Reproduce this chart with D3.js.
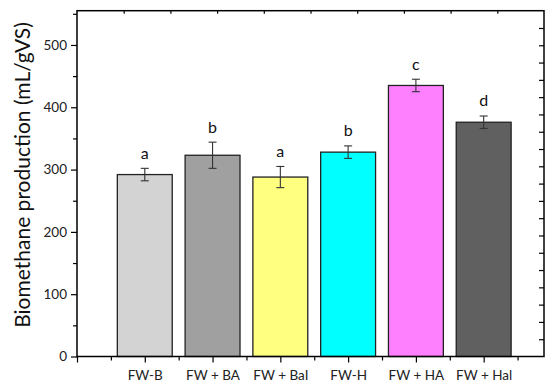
<!DOCTYPE html>
<html><head><meta charset="utf-8">
<script src="https://cdn.jsdelivr.net/npm/d3@7"></script>
<style>body{margin:0;background:#fff}svg{display:block}text{font-family:Lato,"Open Sans",sans-serif}</style>
</head><body><svg id="c" width="550" height="384"></svg>
<script>
const categories = ["FW-B","FW + BA","FW + BaI","FW-H","FW + HA","FW + Hal"];
const values = [292, 323, 288, 328, 435, 376];
const errors = [10, 21, 17, 10, 10, 10];
const letters = ["a","b","a","b","c","d"];
const colors = ["#d3d3d3","#a0a0a0","#ffff80","#00ffff","#ff80ff","#606060"];
const yTicks = [0,100,200,300,400,500];

const svg = d3.select("#c");
const L = 77, R = 544, T = 10.7, B = 356.5;
const x = d3.scaleLinear().domain([0, 6.89]).range([L, R]);
const y = d3.scaleLinear().domain([0, 555]).range([B, T]);
const bw = 0.81;

// bars
const g = svg.append("g");
g.selectAll("rect").data(values).join("rect")
  .attr("x", (d,i)=>x(i+1-bw/2)).attr("width", x(bw)-x(0))
  .attr("y", d=>y(d)).attr("height", d=>y(0)-y(d))
  .attr("fill", (d,i)=>colors[i]).attr("stroke","#222").attr("stroke-width",1.3);

// error bars
const eb = svg.append("g").attr("stroke","#333").attr("stroke-width",1.1);
values.forEach((v,i)=>{
  const cx = x(i+1);
  eb.append("line").attr("x1",cx).attr("x2",cx).attr("y1",y(v-errors[i])).attr("y2",y(v+errors[i]));
  [v-errors[i], v+errors[i]].forEach(e=>eb.append("line").attr("x1",cx-4).attr("x2",cx+4).attr("y1",y(e)).attr("y2",y(e)));
});

// letters
svg.append("g").selectAll("text").data(letters).join("text")
  .attr("x",(d,i)=>x(i+1)).attr("y",(d,i)=>y(values[i]+errors[i])-9.5)
  .attr("text-anchor","middle").attr("font-size",16).attr("fill","#111").text(d=>d);

// axes
const yAxis = d3.axisLeft(y).tickValues(yTicks).tickSize(6).tickPadding(4).tickFormat(d3.format("d"));
const ya = svg.append("g").attr("transform",`translate(${L},0)`).call(yAxis);
ya.selectAll(".tick text").attr("font-size",13.5).attr("fill","#222");
const yMinor = d3.axisLeft(y).tickValues([50,150,250,350,450,550]).tickSize(4).tickFormat("");
svg.append("g").attr("transform",`translate(${L},0)`).call(yMinor);

const xAxis = d3.axisBottom(x).tickValues([0,1,2,3,4,5,6]).tickSize(6).tickPadding(8)
  .tickFormat(d=> d===0 ? "" : categories[d-1]);
const xa = svg.append("g").attr("transform",`translate(0,${B})`).call(xAxis);
xa.selectAll(".tick text").attr("font-size",13.5).attr("fill","#222");
const xMinor = d3.axisBottom(x).tickValues([0.5,1.5,2.5,3.5,4.5,5.5,6.5]).tickSize(4).tickFormat("");
svg.append("g").attr("transform",`translate(0,${B})`).call(xMinor);

// top & right mirror axes (inward ticks)
const xTop = d3.scaleLinear().domain([0,10]).range([L,R]);
svg.append("g").attr("transform",`translate(0,${T})`)
  .call(d3.axisBottom(xTop).tickValues(d3.range(1,10)).tickSize(3).tickFormat(""));
const yRight = d3.scaleLinear().domain([0,20]).range([B,T]);
svg.append("g").attr("transform",`translate(${R},0)`)
  .call(d3.axisLeft(yRight).tickValues(d3.range(1,20)).tickSize(5).tickFormat(""));

svg.selectAll(".domain").remove();
svg.selectAll(".tick line").attr("stroke","#000").attr("stroke-width",1.2);
svg.append("rect").attr("x",L).attr("y",T).attr("width",R-L).attr("height",B-T)
  .attr("fill","none").attr("stroke","#000").attr("stroke-width",1.5);

// y title
svg.append("text").attr("transform",`translate(30,175) rotate(-90)`)
  .attr("text-anchor","middle").attr("font-size",21).attr("fill","#111")
  .text("Biomethane production (mL/gVS)");
</script></body></html>
